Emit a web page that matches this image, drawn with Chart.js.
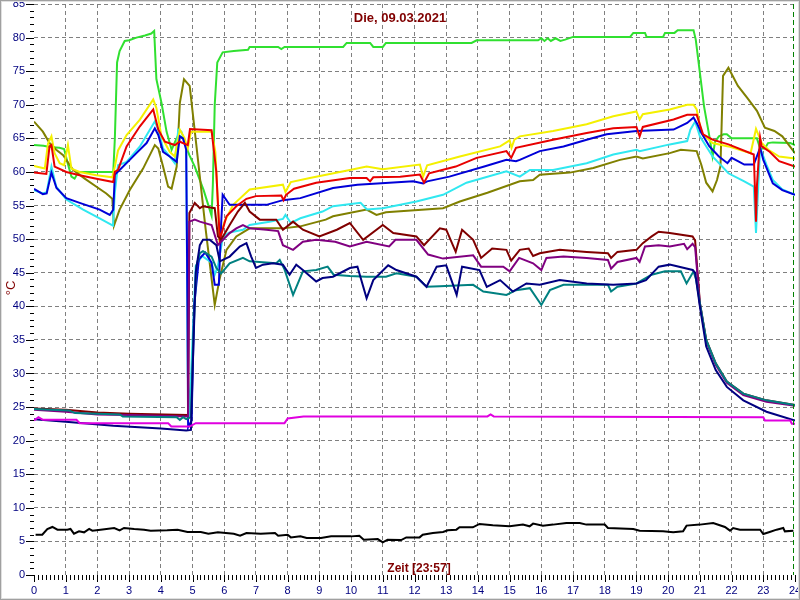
<!DOCTYPE html>
<html><head><meta charset="utf-8">
<script src="https://cdn.jsdelivr.net/npm/chart.js@4"></script>
<style>html,body{margin:0;padding:0;background:#fff}#wrap{width:800px;height:600px}</style>
</head><body><div id="wrap"><canvas id="c" width="800" height="600"></canvas></div>
<script>
const TITLE = 'Die, 09.03.2021';
const X_LABEL = 'Zeit [23:57]';
const Y_LABEL = '°C';
const X_MIN = 0, X_MAX = 24, X_STEP = 1, X_MINOR = 8;
const Y_MIN = 0, Y_MAX = 85, Y_STEP = 5;
const NOW = 23.95;

const green = [[0,64],[0.3,63.9],[0.5,63.7],[0.8,63.6],[0.95,63.4],[1.05,61.5],[1.18,59.3],[1.28,59],[1.39,59.9],[1.5,60],[2.5,60],[2.55,65],[2.62,76.3],[2.7,78],[2.86,79.5],[3.0,79.6],[3.23,80],[3.5,80.3],[3.7,80.6],[3.79,81],[3.86,73.8],[4.02,70.3],[4.18,66],[4.34,63.3],[4.45,64.5],[4.55,65.5],[4.7,65],[4.9,62.5],[5.07,60.8],[5.35,57.3],[5.6,53.5],[5.64,58],[5.7,70],[5.78,76.3],[5.95,77.8],[6.3,78],[6.75,78.2],[6.8,78.6],[7.7,78.6],[7.8,78.3],[7.9,78.6],[9.75,78.6],[9.86,79.2],[10.6,79.2],[10.7,78.6],[11.0,78.6],[11.1,79.2],[13.8,79.2],[13.96,79.6],[15.9,79.6],[16.0,79.9],[16.1,79.5],[16.2,79.9],[16.3,79.5],[16.45,79.9],[16.6,79.5],[16.75,79.7],[17.0,80.1],[18.8,80.1],[18.9,80.7],[19.27,80.7],[19.32,80.1],[19.84,80.1],[19.9,80.7],[20.2,80.7],[20.3,81.1],[20.8,81.1],[20.87,79.7],[21.0,74.8],[21.13,69.8],[21.3,65.3],[21.4,62.3],[21.48,64.5],[21.6,65.3],[21.75,65.6],[21.85,65.6],[22.0,65.0],[22.8,65.0],[22.9,63.5],[23.05,63.5],[23.15,64.3],[23.3,64.4],[23.85,64.3],[24,64.0]];
const yellow = [[0,60.9],[0.34,60.5],[0.44,64.2],[0.55,65.3],[0.65,62.8],[0.81,61.3],[0.95,61],[1.07,64],[1.18,60.5],[1.44,60],[1.97,59.5],[2.47,59.2],[2.55,60.8],[2.65,63.2],[2.92,65.5],[3.34,67.8],[3.76,70.8],[3.86,69.5],[4.02,65.3],[4.28,63],[4.44,62.3],[4.6,66.3],[4.75,65],[4.85,63.5],[4.95,66],[5.6,66],[5.72,63],[5.85,50],[6.0,52.5],[6.28,55.1],[6.8,57.4],[7.85,58.1],[7.93,57],[8.1,58.5],[8.7,59.1],[9.96,60.3],[10.49,60.8],[11.0,60.4],[12.17,61.1],[12.27,59.3],[12.4,61],[13.43,62.3],[14.7,63.8],[15.0,64.7],[15.06,63.6],[15.15,64.8],[15.32,65.3],[16.37,66.1],[17.43,67.1],[18.27,68.3],[19.0,69],[19.1,67.8],[19.2,68.6],[20.05,69.3],[20.6,70],[20.8,70],[20.9,69.3],[21.05,65.8],[21.4,64.3],[21.9,63.8],[22.6,62.8],[22.77,66.4],[22.95,64.3],[23.16,63.3],[23.5,62.3],[24,62]];
const red = [[0,59.9],[0.39,59.7],[0.49,63.8],[0.55,64],[0.65,60.8],[1.02,60],[1.44,59.5],[1.97,59],[2.5,58.5],[2.55,60],[2.65,60.3],[2.92,63.8],[3.34,66.8],[3.76,69.3],[3.92,66.3],[4.13,64.5],[4.44,64],[4.6,64.5],[4.85,64],[4.92,66.4],[5.6,66.2],[5.75,60],[5.86,49.9],[6.07,53.4],[6.38,54.9],[6.7,56],[7.0,56.4],[7.8,56.5],[7.87,55.8],[7.95,56.6],[8.2,57.5],[8.9,58.4],[9.96,59.1],[10.49,59.1],[10.6,58.6],[10.7,59.2],[11.55,59.3],[12.17,59.6],[12.3,58.4],[12.46,59.8],[13.3,60.8],[13.96,62.1],[14.9,63.1],[15.05,62.1],[15.2,63.6],[16.37,64.8],[17.43,65.8],[18.27,66.5],[19.0,66.7],[19.1,65.3],[19.2,66.7],[20.17,67.8],[20.6,68.5],[20.9,68.5],[21.1,65.6],[21.4,64.8],[21.9,64.1],[22.7,62.6],[22.74,57],[22.77,52.6],[22.8,58],[22.9,65.1],[22.95,63.8],[23.2,63],[23.5,61.6],[24,60.8]];
const blue = [[0,57.5],[0.28,56.7],[0.4,56.8],[0.55,59.9],[0.71,57.6],[1.02,56.1],[1.44,55.4],[2.07,54.4],[2.39,53.6],[2.5,54.4],[2.55,59.6],[2.7,60.3],[3.02,61.8],[3.23,62.8],[3.55,64.3],[3.81,66.5],[3.92,65.5],[4.07,63],[4.28,62.3],[4.5,61.5],[4.6,65.3],[4.7,65],[4.8,63.3],[4.84,40],[4.86,22],[4.97,23],[5.05,40],[5.2,47],[5.4,48],[5.6,46.5],[5.7,43.2],[5.83,43.2],[5.9,52],[5.95,56.6],[6.17,55.1],[7.33,55.1],[7.85,55.8],[8.4,56.1],[9.43,57.6],[10.2,58.1],[11.96,58.6],[12.27,58.3],[12.4,58.6],[13.1,59.3],[14.2,60.8],[14.9,61.8],[15.2,61.6],[15.32,61.8],[15.95,63.1],[16.7,63.8],[17.43,64.8],[18.06,65.6],[19.0,66.1],[20.17,66.3],[20.6,67.3],[20.8,68.1],[20.9,67.3],[21.05,65.8],[21.3,63.8],[21.6,62.3],[21.87,61.3],[22.0,62.1],[22.2,61.6],[22.4,61.1],[22.7,61.1],[22.9,63.6],[23.0,61.8],[23.3,58.3],[23.6,57.3],[24,56.6]];
const cyan = [[0,57.3],[0.28,56.8],[0.4,57],[0.55,60.8],[0.7,57.8],[1.02,55.9],[1.55,54.4],[2.07,53.1],[2.49,52],[2.55,57],[2.65,61],[2.92,61.5],[3.34,63.8],[3.81,67.5],[3.92,66.3],[4.07,63.5],[4.28,62.3],[4.44,61.3],[4.55,66.3],[4.65,66],[4.8,63.8],[4.85,30],[4.9,23.5],[5.0,35],[5.1,46],[5.3,47.5],[5.6,46.5],[5.7,44.7],[5.8,46],[5.96,50.4],[6.17,51],[6.59,51.4],[6.8,52.1],[7.43,52.6],[7.85,53],[7.93,53.6],[8.1,52.4],[8.4,53.1],[9.1,54.1],[9.43,54.9],[10.3,55.4],[10.5,54.4],[11,54.6],[12.06,55.6],[12.9,56.6],[13.64,58.4],[14.9,60.1],[15.32,59.3],[15.64,60.3],[16.37,60.3],[17.43,61.3],[18.27,62.6],[19.0,63.3],[19.1,63.1],[20.05,64.1],[20.6,64.6],[20.7,66.3],[20.85,67.5],[21.0,65.3],[21.4,62.3],[21.9,59.8],[22.4,58.6],[22.7,57.8],[22.77,50.9],[22.9,63.6],[23.1,61.1],[23.3,58.8],[23.6,57.4],[24,56.6]];
const olive = [[0,67.5],[0.28,66],[0.49,64.3],[0.7,63.3],[0.92,62.5],[1.23,60.3],[1.6,59],[1.97,57.8],[2.28,56.8],[2.47,56],[2.52,52],[2.7,54.4],[3.02,57.3],[3.44,60.5],[3.81,64],[3.92,63.5],[4.07,60.8],[4.23,57.8],[4.34,57.5],[4.5,60.8],[4.6,70.3],[4.73,73.8],[4.91,72.8],[5.12,64],[5.4,52],[5.7,40.2],[5.85,44],[6.07,48.4],[6.38,50.4],[6.8,51.6],[7.85,51.6],[8.4,51.9],[9.2,52.9],[9.43,53.4],[10.49,54.4],[10.8,53.6],[11.1,54],[12.9,54.6],[13.43,55.6],[14.3,56.9],[15.32,58.6],[15.74,58.8],[15.95,59.6],[16.9,59.9],[17.64,60.6],[18.48,61.8],[19.0,62.3],[19.2,62],[20.05,62.8],[20.4,63.3],[20.9,63.1],[21.05,61],[21.2,58.4],[21.4,57.1],[21.54,58.8],[21.65,60.9],[21.73,74.3],[21.9,75.5],[22.2,72.8],[22.5,71],[22.8,69.1],[23.05,66.6],[23.35,66.1],[23.6,65.3],[24,62.8]];
const maroon = [[0,24.8],[1,24.6],[2,24.2],[3,24],[4.86,23.8],[4.9,53.9],[5.07,55.4],[5.23,54.6],[5.33,54.9],[5.7,54.6],[5.8,50.4],[5.9,49.9],[6.17,52.1],[6.43,54.1],[6.65,55.4],[6.8,54.1],[7.12,52.9],[7.64,52.9],[7.85,51.4],[8.17,52.6],[8.48,51.4],[9.0,50.4],[9.55,51.4],[9.96,52.4],[10.38,49.9],[11.0,52.1],[11.33,50.9],[12.06,50.4],[12.3,49.1],[12.8,51.6],[13.0,51.4],[13.3,48.1],[13.5,51.4],[13.85,49.9],[14.1,47.2],[14.45,48.6],[14.9,48.4],[15.05,46.8],[15.32,48.4],[15.6,48.6],[15.74,47.5],[15.95,47.9],[16.58,48.4],[17.43,48.1],[18.1,47.9],[18.2,47.2],[18.4,48.1],[19.0,48.4],[19.2,49.4],[19.48,50.4],[19.7,51.1],[20.05,50.9],[20.77,50.4],[20.85,49.8],[21.0,40.5],[21.2,35],[21.5,31.5],[21.85,28.8],[22.37,27],[23.1,26],[24,25.3]];
const purple = [[0,24.6],[1,24.3],[2,23.9],[3,23.8],[4.86,23.6],[4.9,52.6],[5.07,52.9],[5.23,52.6],[5.6,52.1],[5.8,49.1],[5.9,49.6],[6.17,50.9],[6.38,51.6],[6.59,52.1],[6.8,51.6],[7.33,51.4],[7.7,51.2],[7.85,49.1],[8.17,48.4],[8.48,49.6],[8.9,49.9],[9.5,49.6],[9.96,48.9],[10.49,49.6],[11.2,48.9],[11.4,49.9],[12.06,49.9],[12.43,47.7],[12.9,47.1],[13.85,47.6],[14.1,45.9],[14.8,45.9],[15.0,45.2],[15.3,47.2],[15.74,46.4],[16.0,45.4],[16.16,47.2],[16.7,47.4],[17.43,47.2],[18.1,46.9],[18.2,45.6],[18.4,46.6],[19.0,47.2],[19.1,46.6],[19.27,48.9],[19.7,49.1],[20.05,48.9],[20.5,49.3],[20.6,48.5],[20.77,49.3],[20.85,48.8],[21.0,40.3],[21.2,34.8],[21.5,31.3],[21.85,28.6],[22.37,26.8],[23.1,25.8],[24,25.2]];
const navy = [[0,23.2],[1,22.8],[2.5,22.2],[4,21.8],[4.8,21.5],[4.95,21.6],[5.0,30],[5.1,45],[5.23,49.1],[5.33,49.9],[5.54,49.9],[5.75,49.1],[5.86,46.7],[6.17,47.4],[6.49,48.9],[6.7,49.4],[6.85,47.4],[7.0,45.7],[7.22,46.2],[7.54,46.4],[7.85,46.2],[8.06,44.7],[8.27,46.2],[8.48,45.4],[8.9,43.7],[9.1,44.2],[9.43,44.4],[9.96,45.7],[10.2,45.9],[10.49,41.2],[10.7,43.9],[11.17,46.1],[11.43,45.4],[12.06,44.4],[12.38,42.9],[12.7,45.9],[13.0,46.1],[13.33,41.7],[13.5,45.9],[14.05,45.4],[14.28,42.9],[14.7,43.9],[15.1,42.2],[15.53,43.4],[15.95,43.2],[16.58,43.9],[17.43,43.4],[18.27,43.2],[19.0,43.4],[19.3,43.9],[19.7,45.9],[20.05,46.2],[20.77,45.4],[20.85,45],[21.0,40],[21.2,34],[21.5,30.5],[21.85,28],[22.37,26],[23.1,24.3],[24,23]];
const teal = [[0,24.7],[1.1,24.5],[1.3,24.1],[2.7,23.9],[2.8,23.6],[4.5,23.5],[4.6,23.1],[4.7,23.5],[4.8,23.2],[4.95,23.5],[5.02,35],[5.12,46],[5.23,47.9],[5.33,48.2],[5.6,47.4],[5.75,45.7],[5.9,44.9],[6.17,46.4],[6.59,47.2],[6.8,46.7],[7.64,46.4],[7.75,46.9],[7.9,45.5],[8.17,41.7],[8.48,45.2],[8.9,45.4],[9.26,45.9],[9.45,44.7],[9.96,44.5],[10.49,44.4],[11.1,44.4],[11.43,44.9],[12.06,44.4],[12.38,42.9],[12.8,43],[13.85,43.2],[14.17,42.2],[14.9,41.7],[15.2,42.4],[15.64,42.7],[16.0,40.2],[16.27,42.4],[16.7,43.2],[18.1,43.2],[18.2,42.2],[18.4,42.9],[19.0,43.4],[19.48,44.7],[19.9,45.2],[20.4,45.2],[20.58,43.4],[20.8,45.2],[20.88,44],[21.0,40.5],[21.2,35],[21.5,31.5],[21.85,28.8],[22.37,27],[23.1,26],[24,25.3]];
const magenta = [[0,23],[0.14,23.5],[0.28,23.1],[1.34,23.1],[1.44,22.6],[4.23,22.6],[4.33,22.1],[4.91,22.1],[5.1,22.6],[7.9,22.6],[8.0,23.3],[8.5,23.6],[14.3,23.6],[14.4,23.9],[14.5,23.6],[23.0,23.5],[23.05,23.0],[23.85,23.0],[23.9,22.5],[24,22.5]];
const black = [[0.05,6.0],[0.26,6.0],[0.42,6.85],[0.58,7.15],[0.74,6.75],[1.05,6.75],[1.15,6.85],[1.26,6.15],[1.42,6.5],[1.58,6.35],[1.74,6.85],[1.84,6.6],[2.1,6.75],[2.53,7.0],[2.7,6.65],[2.84,7.0],[3.16,6.85],[3.47,6.75],[3.68,6.6],[4.2,6.65],[4.53,6.75],[4.84,6.4],[5.26,6.4],[5.5,6.15],[5.8,6.35],[6.3,6.15],[6.5,5.85],[6.7,6.25],[7.15,6.15],[7.6,6.25],[7.7,5.85],[8.0,6.0],[8.1,5.6],[8.4,5.75],[8.6,5.5],[9.05,5.5],[9.37,5.75],[10.0,5.75],[10.26,5.85],[10.4,5.25],[10.84,5.35],[11.0,4.85],[11.15,5.25],[11.58,5.2],[11.74,5.6],[12.16,5.6],[12.26,6.0],[12.58,6.25],[12.9,6.4],[13.05,6.65],[13.32,6.75],[13.42,7.1],[13.84,7.1],[14.05,7.6],[14.47,7.4],[15.0,7.25],[15.42,7.5],[15.63,7.25],[15.74,7.65],[16.05,7.35],[16.37,7.5],[16.79,7.75],[17.21,7.75],[17.42,7.5],[18.0,7.5],[18.1,7.0],[18.9,6.85],[19.1,6.6],[19.84,6.5],[20.16,6.35],[20.47,6.5],[20.58,7.35],[21.0,7.5],[21.42,7.75],[21.79,7.15],[21.95,6.6],[22.05,7.0],[22.26,6.75],[22.9,6.75],[23.0,6.1],[23.2,6.4],[23.42,6.75],[23.63,7.0],[23.68,6.5],[23.95,6.6]];

const SERIES = [
  ['black', black, '#000000'],
  ['magenta', magenta, '#e000e0'],
  ['navy', navy, '#000080'],
  ['teal', teal, '#008080'],
  ['purple', purple, '#800080'],
  ['maroon', maroon, '#800000'],
  ['red', red, '#e80000'],
  ['blue', blue, '#0000d8'],
  ['yellow', yellow, '#f4f000'],
  ['cyan', cyan, '#30e8f0'],
  ['olive', olive, '#808000'],
  ['green', green, '#30e030']
];

const FONT = '"Liberation Sans", Arial, sans-serif';

const decor = {
  id: 'decor',
  beforeDraw(chart) {
    const ctx = chart.ctx;
    ctx.save(); ctx.fillStyle = '#fff'; ctx.fillRect(0, 0, chart.width, chart.height); ctx.restore();
  },
  afterDraw(chart) {
    const { ctx, chartArea: a } = chart;
    const x = chart.scales.x, y = chart.scales.y;
    ctx.save();
    const nx = Math.round(x.getPixelForValue(NOW)) + 0.5;
    ctx.strokeStyle = '#008000'; ctx.lineWidth = 1; ctx.setLineDash([5, 3]);
    ctx.beginPath(); ctx.moveTo(nx, a.top); ctx.lineTo(nx, a.bottom); ctx.stroke();
    ctx.setLineDash([]);
    ctx.strokeStyle = '#000';
    ctx.beginPath();
    for (let v = Y_MIN; v <= Y_MAX; v += 1) {
      const py = Math.round(y.getPixelForValue(v)) + 0.5;
      const len = v % Y_STEP === 0 ? 8 : 4;
      ctx.moveTo(a.left - len, py); ctx.lineTo(a.left, py);
    }
    for (let i = 0; i <= (X_MAX - X_MIN) * X_MINOR; i++) {
      const px = Math.round(x.getPixelForValue(X_MIN + i / X_MINOR)) + 0.5;
      const len = i % X_MINOR === 0 ? 7 : 5;
      ctx.moveTo(px, a.bottom); ctx.lineTo(px, a.bottom + len);
    }
    ctx.stroke();
    ctx.fillStyle = '#800000';
    ctx.font = 'bold 13px ' + FONT;
    ctx.textAlign = 'center'; ctx.textBaseline = 'middle';
    ctx.fillText(TITLE, 400, 18);
    ctx.font = 'bold 12px ' + FONT;
    ctx.fillText(X_LABEL, 419, 569);
    ctx.save();
    ctx.translate(11, 288); ctx.rotate(-Math.PI / 2);
    ctx.font = '13px ' + FONT;
    ctx.fillText(Y_LABEL, 0, 0);
    ctx.restore();
    ctx.strokeStyle = '#a0a0a0'; ctx.lineWidth = 1;
    ctx.strokeRect(0.5, 0.5, chart.width - 1, chart.height - 1);
    ctx.strokeStyle = '#e0e0e0';
    ctx.strokeRect(1.5, 1.5, chart.width - 3, chart.height - 3);
    ctx.restore();
  }
};

function zeroPad(s) { s.paddingTop = 0; s.paddingBottom = 0; s.paddingLeft = 0; s.paddingRight = 0; }

new Chart(document.getElementById('c'), {
  type: 'line',
  data: {
    datasets: SERIES.map(([label, pts, col]) => ({
      label, data: pts, borderColor: col, backgroundColor: col,
      borderWidth: 2, pointRadius: 0, tension: 0, fill: false
    }))
  },
  options: {
    responsive: false, animation: false,
    layout: { padding: { left: 0, right: 5, top: 4, bottom: 0 } },
    plugins: { legend: { display: false }, tooltip: { enabled: false }, title: { display: false } },
    scales: {
      x: {
        type: 'linear', min: X_MIN, max: X_MAX,
        afterFit: s => { s.height = 25; zeroPad(s); },
        border: { display: false, dash: [4, 3] },
        grid: { drawTicks: false, color: c => (c.tick && (c.tick.value === X_MIN || c.tick.value === X_MAX)) ? 'rgba(0,0,0,0)' : '#808080' },
        ticks: { stepSize: X_STEP, autoSkip: false, maxRotation: 0, padding: 9, color: '#000080', font: { family: FONT, size: 11 } }
      },
      y: {
        type: 'linear', min: Y_MIN, max: Y_MAX,
        afterFit: s => { s.width = 34; zeroPad(s); },
        border: { display: false, dash: [4, 3] },
        grid: { drawTicks: false, color: c => (c.tick && c.tick.value === Y_MIN) ? 'rgba(0,0,0,0)' : '#808080' },
        ticks: { stepSize: Y_STEP, autoSkip: false, padding: 9, color: '#000080', font: { family: FONT, size: 11 } }
      }
    }
  },
  plugins: [decor]
});
</script></body></html>
